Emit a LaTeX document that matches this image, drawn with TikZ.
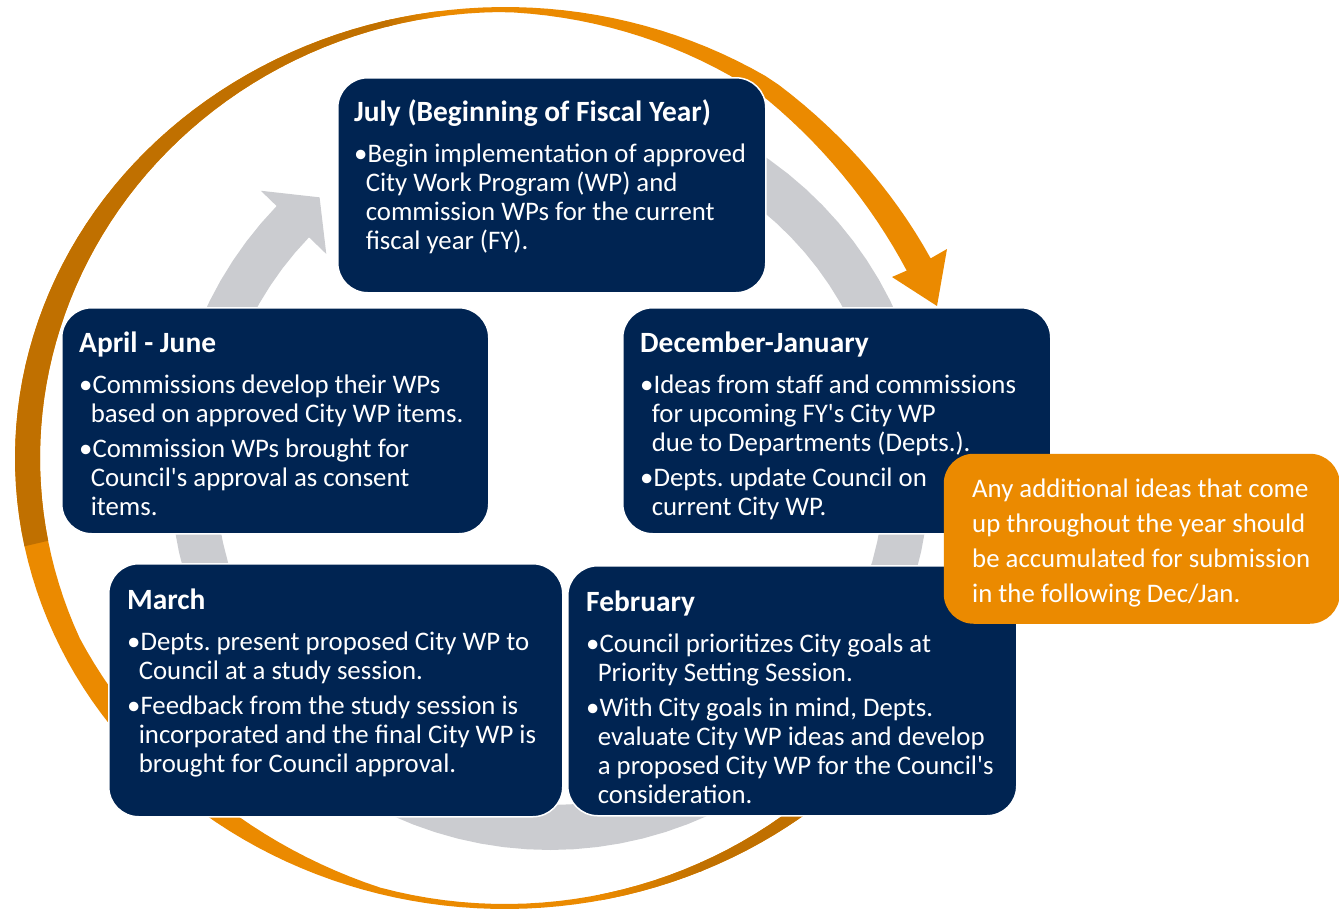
\documentclass[tikz,border=0pt]{standalone}
\usepackage{fontspec}
\setmainfont{Carlito}

\definecolor{navy}{RGB}{0,36,82}
\definecolor{ringgrey}{RGB}{203,204,208}
\definecolor{fyorange}{RGB}{235,138,0}
\definecolor{fybrown}{RGB}{192,112,0}

\newcommand{\bodysize}{\fontsize{26.8}{29}\selectfont\frenchspacing}
\newcommand{\notesize}{\fontsize{26.8}{35}\selectfont\frenchspacing}
\newcommand{\hd}[1]{\rule{0pt}{23pt}{\fontsize{29.4}{29}\selectfont\bfseries #1}}
\newcommand{\itm}{\textbullet}
\newcommand{\ind}{\hspace*{11.6pt}}
\newcommand{\apos}{\textquotesingle}

% squeeze of the ring just before the head, and its width
\newcommand{\sq}{(1-0.025*max(0,1-((\t-333)/30)^2))}
\newcommand{\bandw}{(15+10*cos(2*\t)+8*max(0,1-((\t-315)/45)^2)+6*max(0,1-((\t-130)/25)^2))}
\newcommand{\orangeband}{%
  plot[domain=45:333, samples=150, variable=\t]
    ({505+490*\sq*cos(\t)}, {458+451*\sq*sin(\t)})
  -- (947,249) -- (937,306) -- (892,277) --
  plot[domain=333:45, samples=150, variable=\t]
    ({505+(490-\bandw)*\sq*cos(\t)}, {458+(451-\bandw)*\sq*sin(\t)})
  -- cycle}

\tikzset{
  month/.style={draw=white, line width=1.5pt, fill=navy, rounded corners=30pt,
    anchor=north west, inner sep=0pt},
  monthtext/.style={anchor=north west, inner sep=0pt, text=white, align=left,
    font=\bodysize},
}

\begin{document}
\begin{tikzpicture}[x=1pt, y=-1pt]
  \useasboundingbox (0,0) rectangle (1339,911);

  \begin{scope}[shift={(550,470)}]
    \fill[ringgrey] plot[domain=-90:224, samples=90] (\x:380)
      -- (224:402) -- (229.8:357) -- (224:311)
      -- plot[domain=224:-90, samples=90] (\x:335) -- cycle;
  \end{scope}

  \begin{scope}
    \clip \orangeband;
    \fill[fyorange] (0,0) rectangle (1339,911);
    \fill[fybrown] (0,0) -- (392,0) -- (392,300) -- (120,300) -- (60,538)
      -- (0,552) -- cycle;
    \shade[left color=fybrown, right color=fyorange] (385,0) rectangle (440,120);
    \shade[left color=fyorange, right color=fybrown] (600,760) rectangle (702,911);
    \fill[fybrown] (700,760) rectangle (1339,911);
  \end{scope}

  \node[month, minimum width=428pt, minimum height=215pt] (jul) at (337,77) {};
  \node[month, minimum width=427pt, minimum height=226pt] (apr) at (61,307) {};
  \node[month, minimum width=428pt, minimum height=226pt] (dec) at (622,307) {};
  \node[month, minimum width=454pt, minimum height=253pt] (mar) at (108,563) {};
  \node[month, minimum width=449pt, minimum height=250pt] (feb) at (567,565) {};
  \node[month, draw=none, fill=fyorange, minimum width=396pt, minimum height=170pt] (note) at (943,453) {};

  \node[monthtext] (jultxt) at (354,98) {\hd{July (Beginning of Fiscal Year)}\\[12pt]
    \itm Begin implementation of approved\\
    \ind City Work Program (WP) and\\
    \ind commission WPs for the current\\
    \ind fiscal year (FY).};
  \node[monthtext] (aprtxt) at (79,329) {\hd{April - June}\\[12pt]
    \itm Commissions develop their WPs\\
    \ind based on approved City WP items.\\[6pt]
    \itm Commission WPs brought for\\
    \ind Council\apos s approval as consent\\
    \ind items.};
  \node[monthtext] (dectxt) at (640,329) {\hd{December-January}\\[12pt]
    \itm Ideas from staff and commissions\\
    \ind for upcoming FY\apos s City WP\\
    \ind due to Departments (Depts.).\\[6pt]
    \itm Depts. update Council on\\
    \ind current City WP.};
  \node[monthtext] (martxt) at (127,586) {\hd{March}\\[12pt]
    \itm Depts. present proposed City WP to\\
    \ind Council at a study session.\\[6pt]
    \itm Feedback from the study session is\\
    \ind incorporated and the final City WP is\\
    \ind brought for Council approval.};
  \node[monthtext] (febtxt) at (586,588) {\hd{February}\\[12pt]
    \itm Council prioritizes City goals at\\
    \ind Priority Setting Session.\\[6pt]
    \itm With City goals in mind, Depts.\\
    \ind evaluate City WP ideas and develop\\
    \ind a proposed City WP for the Council\apos s\\
    \ind consideration.};
  \node[monthtext, font=\notesize] (notetxt) at (972,477) {\rule{0pt}{20pt}Any additional ideas that come\\
    up throughout the year should\\
    be accumulated for submission\\
    in the following Dec/Jan.};
\end{tikzpicture}
\end{document}
